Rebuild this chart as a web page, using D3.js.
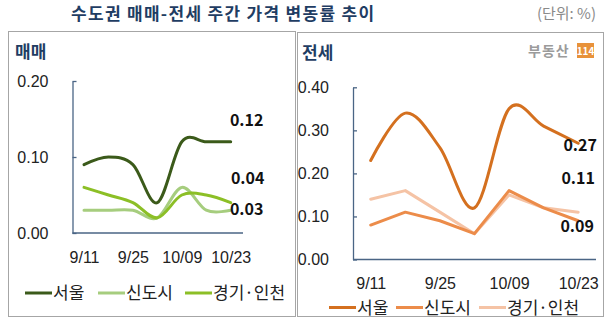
<!DOCTYPE html>
<html><head><meta charset="utf-8">
<script src="https://cdn.jsdelivr.net/npm/d3@7/dist/d3.min.js"></script>
<style>
html,body{margin:0;padding:0;background:#fff;}
svg{display:block;font-family:"Noto Sans CJK KR","Noto Sans",sans-serif;}
</style></head>
<body>
<svg id="chart" width="613" height="327"></svg>
<script>
// ---- data ----
const weeks = ["9/11","9/18","9/25","10/02","10/09","10/16","10/23"];
const tickWeeks = ["9/11","9/25","10/09","10/23"];
const seriesNames = ["서울","신도시","경기·인천"];
const saleSeoul   = [0.09,0.10,0.09,0.04,0.12,0.12,0.12];
const saleNew     = [0.03,0.03,0.03,0.02,0.06,0.03,0.03];
const saleGyeonggi= [0.06,0.05,0.04,0.02,0.05,0.05,0.04];
const rentSeoul   = [0.23,0.34,0.26,0.12,0.35,0.31,0.27];
const rentNew     = [0.08,0.11,0.09,0.06,0.16,0.12,0.09];
const rentGyeonggi= [0.14,0.16,0.11,0.06,0.15,0.12,0.11];
const saleTicks = [0.00,0.10,0.20];
const rentTicks = [0.00,0.10,0.20,0.30,0.40];

const svg = d3.select("#chart");
const axisColor = "#4a6585";

// title
svg.append("text").attr("x",71).attr("y",20).attr("font-size",17).attr("font-weight","bold")
  .attr("letter-spacing",1.3).attr("fill","#1f3d63").text("수도권 매매-전세 주간 가격 변동률 추이");
svg.append("text").attr("x",596).attr("y",19).attr("text-anchor","end").attr("font-size",15)
  .attr("fill","#8a8a8a").text("(단위: %)");

// panel boxes
svg.append("rect").attr("x",8.5).attr("y",31.5).attr("width",287).attr("height",285)
  .attr("fill","none").attr("stroke","#a6a6a6");
svg.append("rect").attr("x",297.5).attr("y",32.5).attr("width",306).attr("height",284)
  .attr("fill","none").attr("stroke","#a6a6a6");

function panel(opt){
  const g = svg.append("g");
  g.append("text").attr("x",opt.titleX).attr("y",opt.titleY).attr("font-size",17)
    .attr("font-weight","bold").attr("fill","#1f3d63").text(opt.title);
  const x = d3.scalePoint().domain(weeks).range(opt.xRange);
  const y = d3.scaleLinear().domain(opt.yDomain).range(opt.yRange);
  // y axis
  const ya = g.append("g").attr("transform",`translate(${opt.axisX},0)`)
    .call(d3.axisLeft(y).tickValues(opt.ticks).tickFormat(d3.format(".2f"))
      .tickSizeInner(-4).tickSizeOuter(0).tickPadding(opt.yPad));
  ya.select(".domain").attr("stroke",axisColor).attr("stroke-width",1.3);
  ya.selectAll(".tick line").attr("stroke",axisColor).attr("stroke-width",1.3);
  ya.selectAll(".tick text").attr("font-size",16).attr("fill","#222").attr("font-family","inherit");
  // x axis line
  g.append("line").attr("x1",opt.axisX).attr("x2",opt.axisEnd)
    .attr("y1",y(0)).attr("y2",y(0)).attr("stroke",axisColor).attr("stroke-width",1.3);
  const xa = g.append("g").attr("transform",`translate(0,${y(0)})`)
    .call(d3.axisBottom(x).tickValues(tickWeeks).tickSize(0).tickPadding(opt.xPad));
  xa.select(".domain").remove();
  xa.selectAll(".tick text").attr("font-size",opt.xFont).attr("fill","#222").attr("font-family","inherit");
  // lines
  opt.series.forEach(s=>{
    const line = d3.line().x((d,i)=>x(weeks[i])).y(d=>y(d))
      .curve(s.smooth ? d3.curveCardinal.tension(0) : d3.curveLinear);
    g.append("path").datum(s.values).attr("d",line).attr("fill","none")
      .attr("stroke",s.color).attr("stroke-width",3).attr("stroke-linejoin","round").attr("stroke-linecap","round");
  });
  // value labels
  opt.series.forEach(s=>{
    const v = s.values[s.values.length-1];
    g.append("text").attr("x",x(weeks[weeks.length-1])+s.lx).attr("y",s.ly)
      .attr("text-anchor","middle").attr("font-size",16).attr("font-weight","bold")
      .attr("fill","#111").text(d3.format(".2f")(v));
  });
  // legend
  opt.legendX.forEach((lx,i)=>{
    const s = opt.legendSeries[i];
    g.append("line").attr("x1",lx).attr("x2",lx+27).attr("y1",opt.legendY).attr("y2",opt.legendY)
      .attr("stroke",s.color).attr("stroke-width",3);
    g.append("text").attr("x",lx+28).attr("y",opt.legendY+6).attr("font-size",opt.legendFont)
      .attr("fill","#222").text(seriesNames[i]);
  });
}

const sale = [
  {values:saleSeoul, color:"#3b5a1a", smooth:true, lx:16, ly:126},
  {values:saleNew, color:"#a6cd7e", smooth:true, lx:16, ly:215},
  {values:saleGyeonggi, color:"#8cbf26", smooth:true, lx:17, ly:184}
];
panel({title:"매매", titleX:15, titleY:58, xRange:[84,230.7], yDomain:[0,0.2], yRange:[233,81],
  ticks:saleTicks, axisX:72.5, axisEnd:243, yPad:24, xPad:19, xFont:16, legendFont:17,
  series:[sale[0],sale[1],sale[2]], legendSeries:sale, legendX:[25,98,185], legendY:293});

const rent = [
  {values:rentSeoul, color:"#d4701f", smooth:true, lx:2, ly:151},
  {values:rentNew, color:"#ec8c4a", smooth:false, lx:-1, ly:232},
  {values:rentGyeonggi, color:"#f5c3a5", smooth:false, lx:0, ly:184}
];
panel({title:"전세", titleX:302, titleY:59, xRange:[370.7,578.2], yDomain:[0,0.4], yRange:[259.5,87.3],
  ticks:rentTicks, axisX:353, axisEnd:596, yPad:24, xPad:18, xFont:16, legendFont:17,
  series:[rent[2],rent[1],rent[0]], legendSeries:rent, legendX:[329,396,479], legendY:307.5});

// logo
svg.append("text").attr("x",528).attr("y",56).attr("font-size",14).attr("font-weight","bold")
  .attr("letter-spacing",1).attr("fill","#9b9b9b").text("부동산");
svg.append("rect").attr("x",577).attr("y",43).attr("width",17).attr("height",15).attr("fill","#e8923a");
svg.append("text").attr("x",585.5).attr("y",54.5).attr("text-anchor","middle").attr("font-size",10)
  .attr("font-weight","bold").attr("fill","#fff").text("114");
</script>
</body></html>
